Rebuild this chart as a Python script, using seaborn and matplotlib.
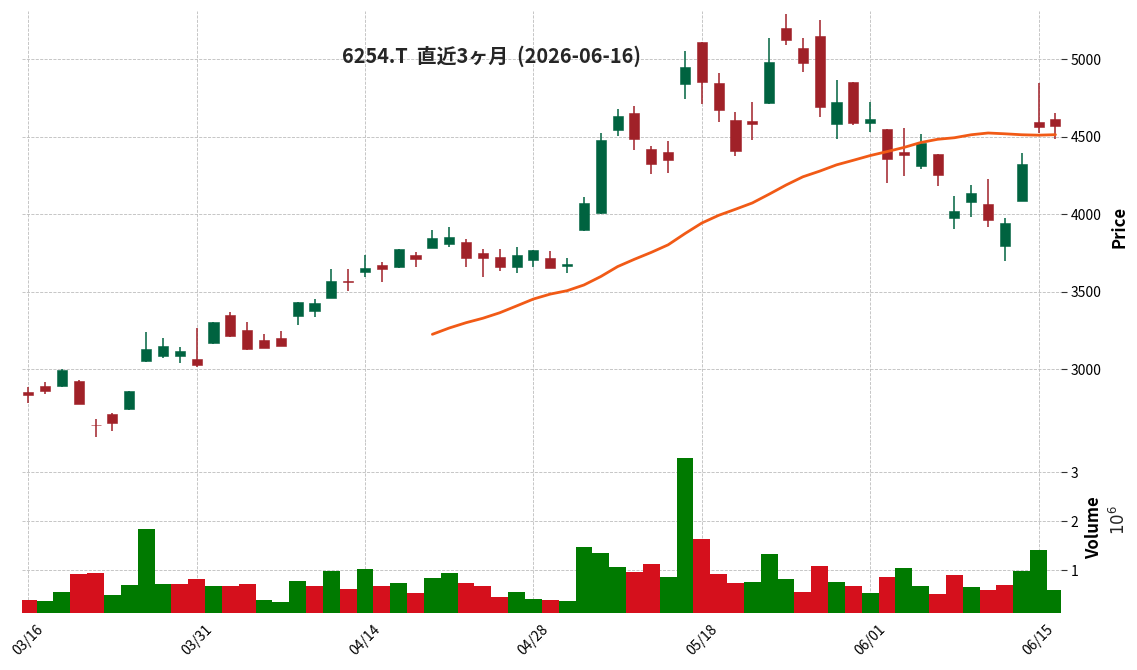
import matplotlib
matplotlib.use('Agg')
import matplotlib.pyplot as plt
import numpy as np
import pandas as pd
import seaborn as sns

# trading days (MM/DD)
dates = ['03/16', '03/17', '03/18', '03/19', '03/23', '03/24', '03/25', '03/26', '03/27', '03/30', '03/31',
         '04/01', '04/02', '04/03', '04/06', '04/07', '04/08', '04/09', '04/10', '04/13', '04/14',
         '04/15', '04/16', '04/17', '04/20', '04/21', '04/22', '04/23', '04/24', '04/27', '04/28', '04/30',
         '05/01', '05/07', '05/08', '05/11', '05/12', '05/13', '05/14', '05/15', '05/18', '05/19',
         '05/20', '05/21', '05/22', '05/25', '05/26', '05/27', '05/28', '05/29',
         '06/01', '06/02', '06/03', '06/04', '06/05', '06/08', '06/09', '06/10', '06/11', '06/12', '06/15', '06/16']

opens = [2854, 2893, 2895, 2925, 2641, 2712, 2744, 3054, 3086, 3088,
         3067, 3172, 3351, 3254, 3189, 3202, 3346, 3379, 3462, 3570,
         3630, 3673, 3660, 3738, 3785, 3811, 3822, 3751, 3725, 3662,
         3708, 3720, 3665, 3899, 4011, 4546, 4654, 4422, 4402, 4843,
         5112, 4847, 4609, 4602, 4720, 5202, 5073, 5151, 4585, 4854,
         4591, 4551, 4402, 4314, 4389, 3979, 4082, 4067, 3798, 4086,
         4596, 4615]
highs = [2888, 2916, 3000, 2931, 2677, 2715, 2862, 3239, 3200, 3142,
         3265, 3308, 3368, 3303, 3226, 3245, 3436, 3456, 3645, 3645,
         3736, 3695, 3778, 3759, 3899, 3916, 3843, 3774, 3774, 3791,
         3772, 3761, 3716, 4114, 4523, 4677, 4697, 4441, 4471, 5056,
         5114, 4910, 4662, 4723, 5140, 5290, 5140, 5254, 4865, 4856,
         4723, 4553, 4557, 4516, 4391, 4116, 4187, 4226, 3974, 4394,
         4845, 4656]
lows = [2781, 2839, 2888, 2777, 2561, 2604, 2740, 3050, 3075, 3039,
        3013, 3166, 3211, 3123, 3138, 3150, 3286, 3336, 3458, 3503,
        3594, 3566, 3656, 3662, 3782, 3791, 3662, 3598, 3632, 3619,
        3662, 3654, 3619, 3895, 4005, 4508, 4413, 4258, 4265, 4746,
        4710, 4594, 4374, 4477, 4710, 5092, 4918, 4626, 4484, 4574,
        4533, 4200, 4245, 4290, 4181, 3903, 3981, 3916, 3697, 4084,
        4523, 4484]
closes = [2837, 2862, 2996, 2779, 2638, 2656, 2860, 3131, 3151, 3118,
          3030, 3305, 3215, 3133, 3140, 3153, 3434, 3428, 3570, 3566,
          3656, 3650, 3776, 3714, 3847, 3854, 3720, 3715, 3662, 3738,
          3770, 3656, 3680, 4073, 4480, 4634, 4488, 4327, 4351, 4951,
          4856, 4675, 4411, 4585, 4983, 5127, 4978, 4692, 4725, 4589,
          4615, 4357, 4383, 4460, 4256, 4022, 4138, 3963, 3944, 4325,
          4566, 4570]
volumes = [390000, 370000, 560000, 920000, 950000, 500000, 700000, 1840000, 720000, 720000,
           820000, 680000, 680000, 720000, 390000, 350000, 780000, 680000, 990000, 620000,
           1030000, 680000, 740000, 540000, 840000, 940000, 740000, 680000, 460000, 560000,
           410000, 390000, 370000, 1470000, 1350000, 1070000, 970000, 1130000, 860000, 3290000,
           1640000, 920000, 740000, 760000, 1330000, 820000, 560000, 1090000, 760000, 680000,
           540000, 860000, 1040000, 680000, 520000, 900000, 660000, 590000, 700000, 990000,
           1410000, 590000]

df = pd.DataFrame({'date': dates, 'open': opens, 'high': highs, 'low': lows,
                   'close': closes, 'volume': volumes})
df['pos'] = np.arange(len(df))
df['ma25'] = df['close'].rolling(25).mean()
prev = df['close'].shift(1).fillna(df['open'])
df['vdir'] = np.where(df['close'] >= prev, 'up', 'down')

sns.set_style('whitegrid')
plt.rcParams['font.family'] = ['Noto Sans CJK JP', 'DejaVu Sans']

UP, DOWN = '#006340', '#A02128'
VUP, VDOWN = '#007a00', '#d5101c'
GRID = dict(linestyle='--', color='#bdbdbd', linewidth=0.6)

fig = plt.figure(figsize=(11.37, 6.70), dpi=100)
ax = fig.add_axes([0.01935, 0.3403, 0.9135, 0.6433])
axv = fig.add_axes([0.01935, 0.0855, 0.9135, 0.2548])

# candles
up = df['close'] >= df['open']
ccol = np.where(up, UP, DOWN)
body_lo = np.minimum(df['open'], df['close'])
body_h = (df['close'] - df['open']).abs()
ax.vlines(df['pos'], df['low'], df['high'], colors=ccol, linewidth=1.1, zorder=2)
ax.bar(df['pos'], body_h, bottom=body_lo, width=0.6, color=ccol, edgecolor=ccol,
       linewidth=0.4, zorder=3)

# moving average
ma = df.dropna(subset=['ma25'])
sns.lineplot(data=ma, x='pos', y='ma25', color='#f15a16', linewidth=2, ax=ax, zorder=4)

ax.set_xlim(-0.37, 61.31)
ax.set_ylim(2531, 5312)
ax.set_yticks([3000, 3500, 4000, 4500, 5000])
ax.set_xticks(range(0, 62, 10))
ax.set_xticklabels([])
ax.yaxis.tick_right()
ax.yaxis.set_label_position('right')
ax.tick_params(axis='y', length=4, width=0.8, color='#333333', labelcolor='black',
               labelsize=10, pad=3)
ax.tick_params(axis='x', length=0)
ax.set_xlabel('')
ax.set_ylabel('Price', fontsize=12, fontweight='bold', color='black')
ax.yaxis.set_label_coords(1.0478, 0.5)
ax.grid(True, **GRID)

# volume
sns.barplot(data=df, x='pos', y='volume', hue='vdir', palette={'up': VUP, 'down': VDOWN},
            native_scale=True, width=1.0, dodge=False, legend=False, errorbar=None,
            saturation=1, linewidth=0, ax=axv)
axv.set_xlim(-0.37, 61.31)
axv.set_ylim(135000, 3618000)
axv.set_yticks([1000000, 2000000, 3000000])
axv.set_yticklabels(['1', '2', '3'])
axv.set_xticks(range(0, 62, 10))
axv.set_xticklabels(dates[::10], rotation=45, ha='center')
axv.yaxis.tick_right()
axv.yaxis.set_label_position('right')
axv.tick_params(axis='y', length=4, width=0.8, color='#333333', labelcolor='black',
                labelsize=10, pad=3)
axv.tick_params(axis='x', length=4, width=0.8, color='#333333', labelcolor='black',
                labelsize=10, pad=3)
axv.set_xlabel('')
axv.set_ylabel('Volume', fontsize=12, fontweight='bold', color='black')
axv.yaxis.set_label_coords(1.0235, 0.5)
axv.text(1.0565, 0.54, r'$10^{6}$', transform=axv.transAxes, rotation=90,
         ha='center', va='center', fontsize=12)
axv.grid(True, **GRID)

for a in (ax, axv):
    for s in a.spines.values():
        s.set_visible(False)
    a.set_axisbelow(True)

fig.text(491 / 1137, 1 - 56 / 670, '6254.T  直近3ヶ月  (2026-06-16)',
         ha='center', va='center', fontsize=14.3, fontweight='bold')

fig.savefig('out.png', dpi=100)
